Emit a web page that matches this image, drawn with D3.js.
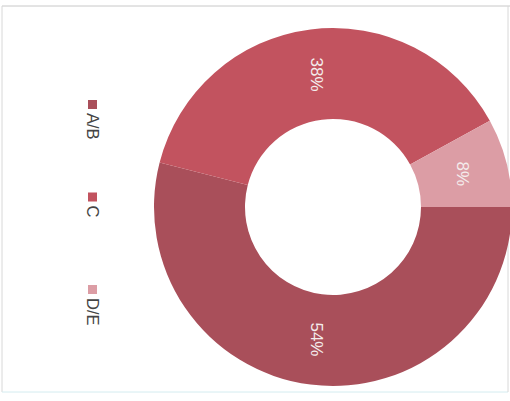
<!DOCTYPE html>
<html><head><meta charset="utf-8">
<script src="https://cdn.jsdelivr.net/npm/d3@7"></script>
<style>html,body{margin:0;padding:0;background:#fff;}svg{display:block;}</style>
</head><body>
<svg id="c" width="510" height="401"></svg>
<script>
const categories = ["A/B", "C", "D/E"];
const values = [54, 38, 8];
const colors = ["#a94f5a", "#c2535f", "#dc9da5"];

const svg = d3.select("#c");
// frame
svg.append("line").attr("x1",2).attr("x2",510).attr("y1",6).attr("y2",6).attr("stroke","#c8c8c8");
svg.append("line").attr("x1",2).attr("x2",2).attr("y1",6).attr("y2",392).attr("stroke","#d8d8d8");
svg.append("line").attr("x1",2).attr("x2",508).attr("y1",392).attr("y2",392).attr("stroke","#d4ecf0");
svg.append("line").attr("x1",508).attr("x2",508).attr("y1",6).attr("y2",392).attr("stroke","#d8d8d8");

const cx = 333, cy = 207, rOuter = 179, rInner = 88;
const pie = d3.pie().sort(null).value(d => d)
  .startAngle(Math.PI/2).endAngle(Math.PI/2 + 2*Math.PI);
const arcs = pie(values);
const arc = d3.arc().innerRadius(rInner).outerRadius(rOuter);
const g = svg.append("g").attr("transform", `translate(${cx},${cy})`);
g.selectAll("path").data(arcs).join("path")
  .attr("d", arc).attr("fill", (d,i) => colors[i]);
g.selectAll("text").data(arcs).join("text")
  .attr("transform", d => { const c = arc.centroid(d); return `translate(${c[0]},${c[1]}) rotate(90)`; })
  .attr("text-anchor","middle").attr("dominant-baseline","central")
  .attr("font-family","Liberation Sans, Arial, sans-serif").attr("font-size",17)
  .attr("fill","#f4ecec")
  .text(d => d.data + "%");

// legend (rotated 90deg)
const ly = d3.scalePoint().domain(categories).range([100, 285]);
const lg = svg.append("g");
categories.forEach((c,i) => {
  lg.append("rect").attr("x",88).attr("y",ly(c)).attr("width",9).attr("height",9).attr("fill",colors[i]);
  lg.append("text").attr("transform",`translate(93,${ly(c)+13}) rotate(90)`)
    .attr("dominant-baseline","central").attr("text-anchor","start")
    .attr("font-family","Liberation Sans, Arial, sans-serif").attr("font-size",16.5)
    .attr("fill","#444").text(c);
});
</script>
</body></html>
